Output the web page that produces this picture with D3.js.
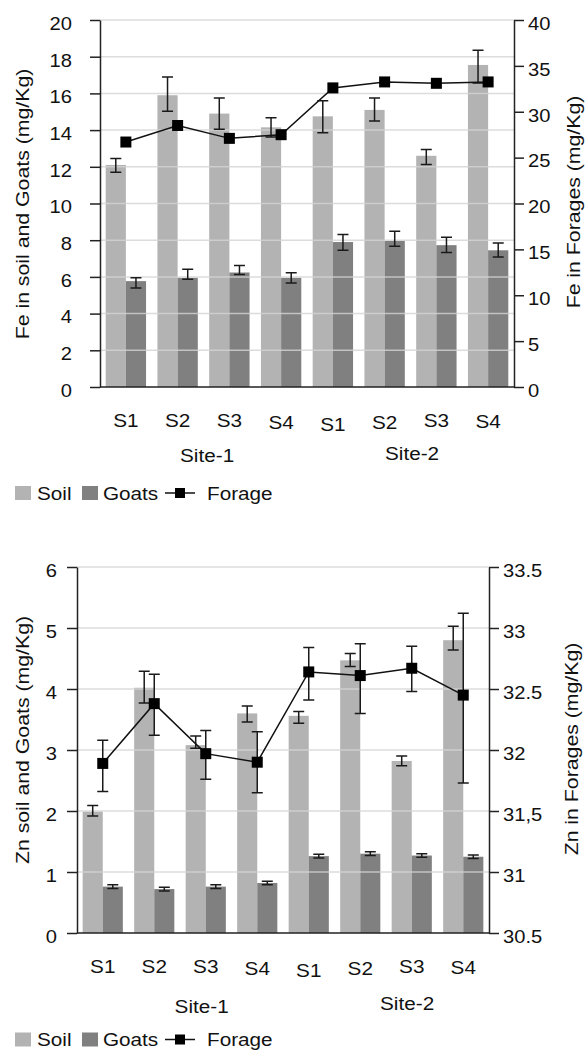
<!DOCTYPE html>
<meta charset="utf-8">
<html>
<style>
body { margin: 0; background: #fff; }
svg text { font-family: "Liberation Sans", Arial, sans-serif; fill: #111; }
.grid line { stroke: #d4d4d4; stroke-width: 1.5; opacity: 0.8; }
.axis path, .axis line { stroke: #222; stroke-width: 1.5; }
.err { stroke: #1a1a1a; stroke-width: 1.5; fill: none; }
.forage { stroke: #111; stroke-width: 1.5; fill: none; }
</style>
<body>
<script src="https://cdn.jsdelivr.net/npm/d3@7"></script>
<script>

// categories
var samples = ["S1", "S2", "S3", "S4", "S1", "S2", "S3", "S4"];
var siteNames = ["Site-1", "Site-2"];
var legendNames = ["Soil", "Goats", "Forage"];

// Fe panel (errors as [minus, plus])
var feSoil = [12.1, 15.9, 14.9, 14.15, 14.75, 15.1, 12.6, 17.55];
var feSoilErr = [[0.4, 0.35], [0.87, 1.0], [0.85, 0.85], [0.52, 0.52], [0.9, 0.85], [0.6, 0.65], [0.48, 0.34], [0.98, 0.8]];
var feGoats = [5.77, 5.95, 6.24, 5.95, 7.9, 7.96, 7.73, 7.45];
var feGoatsErr = [[0.37, 0.18], [0.08, 0.47], [0.11, 0.38], [0.28, 0.27], [0.45, 0.41], [0.29, 0.53], [0.4, 0.43], [0.36, 0.4]];
var feForage = [26.7, 28.5, 27.1, 27.5, 32.6, 33.25, 33.1, 33.25];
var feLeftTicks = [0, 2, 4, 6, 8, 10, 12, 14, 16, 18, 20];
var feLeftLabels = ["0", "2", "4", "6", "8", "10", "12", "14", "16", "18", "20"];
var feRightTicks = [0, 5, 10, 15, 20, 25, 30, 35, 40];
var feRightLabels = ["0", "5", "10", "15", "20", "25", "30", "35", "40"];

// Zn panel
var znSoil = [1.99, 4.02, 3.08, 3.6, 3.56, 4.47, 2.82, 4.8];
var znSoilErr = [[0.07, 0.1], [0.25, 0.27], [0.05, 0.15], [0.14, 0.12], [0.12, 0.07], [0.1, 0.11], [0.08, 0.08], [0.16, 0.23]];
var znGoats = [0.76, 0.72, 0.76, 0.82, 1.26, 1.3, 1.27, 1.25];
var znGoatsErr = [[0.03, 0.03], [0.03, 0.03], [0.03, 0.03], [0.03, 0.03], [0.03, 0.03], [0.03, 0.03], [0.03, 0.03], [0.03, 0.03]];
var znForage = [31.89, 32.38, 31.97, 31.9, 32.64, 32.61, 32.67, 32.45];
var znForageErr = [[0.23, 0.19], [0.26, 0.24], [0.21, 0.19], [0.25, 0.25], [0.23, 0.2], [0.31, 0.26], [0.19, 0.18], [0.72, 0.67]];
var znLeftTicks = [0, 1, 2, 3, 4, 5, 6];
var znLeftLabels = ["0", "1", "2", "3", "4", "5", "6"];
var znRightTicks = [30.5, 31, 31.5, 32, 32.5, 33, 33.5];
var znRightLabels = ["30.5", "31", "31,5", "32", "32.5", "33", "33.5"];

var W = 588, H = 1051;
var S = 1.12;              // glyphs in the source are a bit wider than Arial
var soilColor = "#b3b3b3", goatColor = "#808080";
var labelDy = [0, 0, 0, 2, 4, 2, 0, 1];

var svg = d3.select("body").append("svg")
    .attr("width", W).attr("height", H);

// widen a text horizontally, keeping its anchor where it was
function stretch(sel) {
  sel.each(function() {
    var t = d3.select(this);
    var x = +t.attr("x") || 0;
    t.attr("x", x / S).attr("transform", "scale(" + S + ",1)");
  });
}

function drawPanel(p) {
  var g = svg.append("g");

  var yL = d3.scaleLinear().domain([p.leftTicks[0], p.leftTicks[p.leftTicks.length - 1]]).range([p.yBot, p.yTop]);
  var yR = d3.scaleLinear().domain([p.rightTicks[0], p.rightTicks[p.rightTicks.length - 1]]).range([p.yBot, p.yTop]);
  var xg = d3.scaleBand().domain(d3.range(samples.length)).range([p.x0, p.x1])
      .paddingInner(0.22).paddingOuter(0.11);
  var xs = d3.scaleBand().domain(["soil", "goats"]).range([0, xg.bandwidth()]);
  var xi = d3.scaleLinear().domain([0, samples.length]).range([p.x0, p.x1]);
  var cx = function(i) { return xg(i) + xg.bandwidth() / 2; };

  // bars
  var series = [
    {key: "soil", vals: p.soil, err: p.soilErr, color: soilColor},
    {key: "goats", vals: p.goats, err: p.goatsErr, color: goatColor}
  ];
  series.forEach(function(s) {
    g.append("g").selectAll("rect").data(s.vals).enter().append("rect")
      .attr("x", function(d, i) { return xg(i) + xs(s.key); })
      .attr("width", xs.bandwidth())
      .attr("y", function(d) { return yL(d); })
      .attr("height", function(d) { return yL(0) - yL(d); })
      .attr("fill", s.color);
  });

  // gridlines on top of the bars
  g.append("g").attr("class", "grid").selectAll("line")
    .data(p.leftTicks.slice(1)).enter().append("line")
    .attr("x1", p.x0).attr("x2", p.x1)
    .attr("y1", function(d) { return yL(d); })
    .attr("y2", function(d) { return yL(d); });

  // error bars
  var cap = 5.5;
  function errBars(vals, err, xf, y) {
    g.append("g").attr("class", "err").selectAll("path").data(vals).enter().append("path")
      .attr("d", function(d, i) {
        var x = xf(i), lo = y(d - err[i][0]), hi = y(d + err[i][1]);
        return "M" + (x - cap) + "," + hi + "H" + (x + cap) +
               "M" + x + "," + hi + "V" + lo +
               "M" + (x - cap) + "," + lo + "H" + (x + cap);
      });
  }
  series.forEach(function(s) {
    errBars(s.vals, s.err, function(i) { return xg(i) + xs(s.key) + xs.bandwidth() / 2; }, yL);
  });
  if (p.forageErr) errBars(p.forage, p.forageErr, cx, yR);

  // forage line
  var line = d3.line().x(function(d, i) { return cx(i); }).y(function(d) { return yR(d); });
  g.append("path").attr("class", "forage").attr("d", line(p.forage));
  g.append("g").selectAll("rect").data(p.forage).enter().append("rect")
    .attr("x", function(d, i) { return cx(i) - 5.5; })
    .attr("y", function(d) { return yR(d) - 5.5; })
    .attr("width", 11).attr("height", 11)
    .attr("fill", "#000");

  // axes
  var axL = g.append("g").attr("class", "axis")
    .attr("transform", "translate(" + p.x0 + ",0)")
    .call(d3.axisLeft(yL).tickValues(p.leftTicks).tickSize(10).tickSizeOuter(0).tickPadding(p.padL)
      .tickFormat(function(d, i) { return p.leftLabels[i]; }));
  var axR = g.append("g").attr("class", "axis")
    .attr("transform", "translate(" + p.x1 + ",0)")
    .call(d3.axisRight(yR).tickValues(p.rightTicks).tickSize(10).tickSizeOuter(0).tickPadding(p.padR)
      .tickFormat(function(d, i) { return p.rightLabels[i]; }));
  [axL, axR].forEach(function(a) {
    a.attr("font-size", null).attr("font-family", null);
    a.selectAll("text").attr("font-size", 18).attr("dy", "0.52em").call(stretch);
  });
  g.append("line").attr("class", "axis")
    .attr("x1", p.x0).attr("x2", p.x1).attr("y1", p.yBot).attr("y2", p.yBot)
    .attr("stroke", "#222").attr("stroke-width", 1.5);

  // category labels
  g.append("g").selectAll("text").data(samples).enter().append("text")
    .attr("x", function(d, i) { return cx(i); })
    .attr("y", function(d, i) { return p.tickY + labelDy[i]; })
    .attr("text-anchor", "middle").attr("font-size", 18.5)
    .text(function(d) { return d; })
    .call(stretch);
  g.append("g").selectAll("text").data(siteNames).enter().append("text")
    .attr("x", function(d, i) { return xi(p.siteAt[i]); })
    .attr("y", function(d, i) { return p.siteY + p.siteDy[i]; })
    .attr("text-anchor", "middle").attr("font-size", 18.5)
    .text(function(d) { return d; })
    .call(stretch);

  // axis titles
  [[p.leftTitle, p.titleLX, p.titleLY], [p.rightTitle, p.titleRX, p.titleRY]].forEach(function(t) {
    g.append("g").attr("transform", "translate(" + t[1] + "," + t[2] + ") rotate(-90)")
      .append("text").attr("text-anchor", "middle").attr("font-size", 19)
      .text(t[0]).call(stretch);
  });

  // legend
  var lg = g.append("g").attr("transform", "translate(0," + p.legendY + ")");
  lg.append("rect").attr("x", 15).attr("y", -13.5).attr("width", 16).attr("height", 14).attr("fill", soilColor);
  lg.append("rect").attr("x", 82).attr("y", -13.5).attr("width", 16).attr("height", 14).attr("fill", goatColor);
  lg.append("line").attr("x1", 165).attr("x2", 195).attr("y1", -6.5).attr("y2", -6.5)
    .attr("stroke", "#111").attr("stroke-width", 1.5);
  lg.append("rect").attr("x", 175).attr("y", -11.5).attr("width", 10).attr("height", 10).attr("fill", "#000");
  lg.selectAll("text").data(legendNames).enter().append("text")
    .attr("x", function(d, i) { return [37, 103, 207][i]; })
    .attr("y", 0).attr("font-size", 18.5)
    .text(function(d) { return d; })
    .call(stretch);
}

drawPanel({
  soil: feSoil, soilErr: feSoilErr, goats: feGoats, goatsErr: feGoatsErr,
  forage: feForage, forageErr: null,
  leftTicks: feLeftTicks, leftLabels: feLeftLabels, rightTicks: feRightTicks, rightLabels: feRightLabels,
  leftTitle: "Fe in soil and Goats (mg/Kg)", rightTitle: "Fe in Forages (mg/Kg)",
  x0: 100, x1: 514, yTop: 20, yBot: 387, padL: 18, padR: 4,
  titleLX: 29, titleLY: 204, titleRX: 580, titleRY: 202,
  tickY: 427.5, siteAt: [2.07, 6.03], siteY: 462, siteDy: [0, -2], legendY: 499.5
});

drawPanel({
  soil: znSoil, soilErr: znSoilErr, goats: znGoats, goatsErr: znGoatsErr,
  forage: znForage, forageErr: znForageErr,
  leftTicks: znLeftTicks, leftLabels: znLeftLabels, rightTicks: znRightTicks, rightLabels: znRightLabels,
  leftTitle: "Zn soil and Goats (mg/Kg)", rightTitle: "Zn in Forages (mg/Kg)",
  x0: 77, x1: 489, yTop: 567, yBot: 933, padL: 10, padR: 4,
  titleLX: 29, titleLY: 740, titleRX: 578, titleRY: 749,
  tickY: 973, siteAt: [2.42, 6.41], siteY: 1013, siteDy: [0, -2.5], legendY: 1046
});

</script>
</body>
</html>
